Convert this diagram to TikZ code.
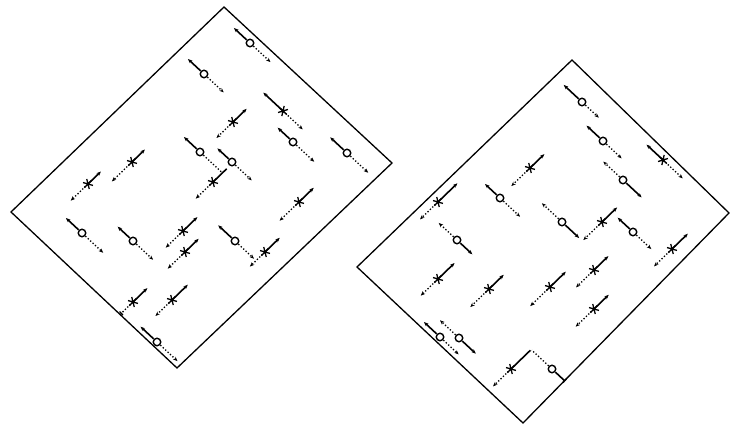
\documentclass[tikz,border=0pt]{standalone}
\usetikzlibrary{arrows.meta}
\tikzset{
 frame/.style={line width=1.3pt, line join=miter},
 solidarm/.style={line width=1.6pt, -{Stealth[length=4.5pt,width=3.6pt]}},
 dotarm/.style={line width=1.3pt, dash pattern=on 1.3pt off 2pt, -{Stealth[length=4.5pt,width=3.6pt]}},
 circsym/.style={circle, draw, line width=1.4pt, fill=white, inner sep=0pt, minimum size=7.5pt},
 starline/.style={line width=1.3pt},
 bartip/.style={-{Bar[width=5pt]}},
}
% #1 pos, #2 angle, #3 gap, #4 solid length, #5 dotted length, #6 solid opts, #7 dotted opts
\newcommand\armpair[7]{%
 \draw[solidarm,#6,shift={(#1)},rotate=#2] (#3,0) -- (#4,0);
 \draw[dotarm,#7,shift={(#1)},rotate=#2] (-#3,0) -- (-#5,0);}
\newcommand\glo[7]{\armpair{#2}{#3}{4.6}{#4}{#5}{#6}{#7}\node[circsym] (#1) at (#2) {};}
\newcommand\glx[7]{\armpair{#2}{#3}{0}{#4}{#5}{#6}{#7}%
 \draw[starline,shift={(#2)},rotate=#3] (60:5.2) -- (240:5.2) (120:5.2) -- (300:5.2) (-5.2,0) -- (5.2,0);
 \coordinate (#1) at (#2);}
\begin{document}
\begin{tikzpicture}[x=1pt,y=-1pt]
\fill[white] (0,0) rectangle (730,427);
\useasboundingbox (0,0) rectangle (730,427);
\clip (0,0) rectangle (730,427);
% frames
\draw[frame] (224,7) -- (392,163) -- (177,368) -- (11,212) -- cycle;
\draw[frame] (572,60) -- (729,213) -- (523,423) -- (357,267) -- cycle;
% left sheet
\glo{la}{250,43}{137}{22}{28}{}{}
\glo{lb}{204,74}{137}{22}{27}{}{}
\glx{lc}{233,122}{44}{19}{23}{}{}
\glx{ld}{283,111}{137}{27}{27}{}{}
\glo{le}{293,142}{137}{21}{29}{}{}
\glo{lf}{347,153}{137}{23}{29}{}{}
\glo{lg}{200,152}{137}{22}{30.5}{}{-}
\glo{lh}{232,162}{137}{20}{27}{}{}
\glx{li}{213,182}{44}{19}{24}{-}{}
\glx{lj}{132,162}{44}{18}{28}{}{}
\glx{lk}{88,184}{44}{18}{24}{}{}
\glx{ll}{299,202}{44}{20.5}{27}{}{}
\glo{lm}{82,233}{137}{22}{29}{}{}
\glo{ln}{133,241}{137}{21}{27.5}{}{}
\glx{lo}{183,231}{44}{20}{24}{}{}
\glx{lp}{185,252}{44}{19}{24}{}{}
\glo{lq}{235,241}{137}{23}{26}{}{}
\glx{lr}{265,252}{44}{20.5}{21}{}{}
\glx{ls}{133,302}{44}{20}{17}{}{bartip}
\glx{lt}{172,300}{44}{22}{23}{}{}
\glo{lu}{157,342}{137}{22.5}{28}{}{}
% right sheet
\glo{ra}{582,102}{137}{25}{23}{}{}
\glo{rb}{603,141}{137}{22.5}{25.5}{}{}
\glo{rc}{623,180}{-43}{25.5}{27}{}{}
\glx{rd}{663,160}{137}{22.5}{27}{}{}
\glx{re}{530,168}{44}{20}{26}{}{}
\glo{rf}{500,198}{137}{20.5}{27.5}{}{}
\glx{rg}{438,202}{44}{27}{25}{}{}
\glo{rh}{562,222}{-43}{23.5}{27.5}{}{}
\glx{ri}{602,222}{44}{21}{26}{}{}
\glo{rj}{633,232}{137}{21}{25}{}{}
\glx{rk}{672,249}{44}{22}{25}{}{}
\glo{rl}{457,240}{-43}{21}{25}{}{}
\glx{rm}{438,279}{44}{23}{24}{}{}
\glx{rn}{489,289}{44}{20.5}{26}{}{}
\glx{ro}{550,287}{44}{22}{27.5}{}{}
\glx{rp}{594,270}{44}{20}{25}{}{}
\glx{rq}{594,309}{44}{20.5}{25.5}{}{}
\glo{rr}{440,337}{137}{22}{25.5}{}{}
\glo{rs}{459,338}{-43}{23}{26}{}{}
\glx{rt}{511,369}{44}{27}{25}{-}{}
\glo{ru}{552,369}{-43}{18}{27.7}{bartip}{-}
\end{tikzpicture}
\end{document}
